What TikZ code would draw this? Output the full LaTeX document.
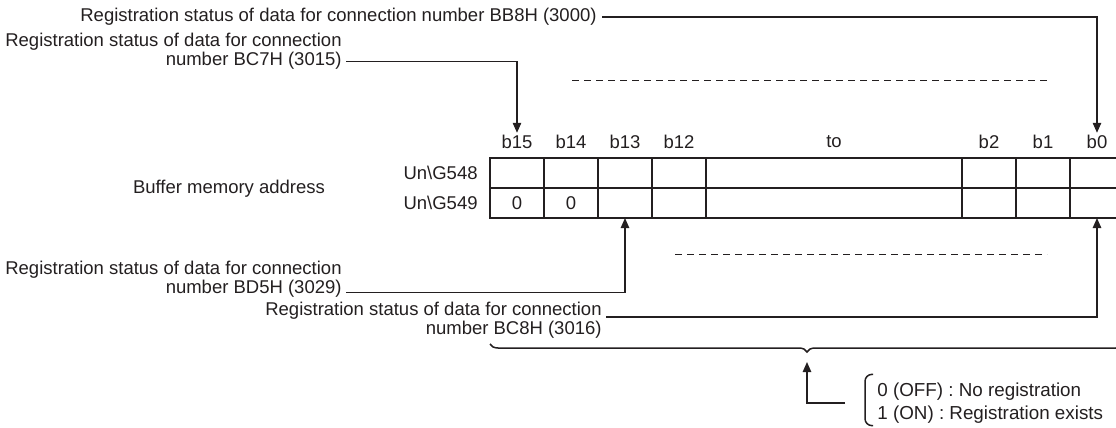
\documentclass[tikz,border=0pt]{standalone}
\usepackage{fontspec}
\setmainfont{Liberation Sans}
\usetikzlibrary{arrows.meta,positioning,calc,decorations.pathreplacing}
\definecolor{mmink}{RGB}{35,31,32}

\begin{document}
\begin{tikzpicture}[x=0.5pt,y=-0.5pt,
        every node/.style={font=\fontsize{9.25}{8.4}\selectfont, text=mmink},
        lbl/.style={align=right, inner sep=0pt},
        legend/.style={align=left, inner sep=0pt, font=\fontsize{9.4}{11.5}\selectfont},
        cell/.style={draw=mmink, line width=1pt, minimum width=27pt, minimum height=15pt, inner sep=0pt, outer sep=0pt},
        bitlbl/.style={inner sep=1pt},
        leader/.style={draw=mmink, line width=0.75pt, -{Triangle[length=5pt,width=4.2pt]}},
        plainline/.style={draw=mmink, line width=0.75pt},
        dashline/.style={draw=mmink, line width=0.5pt, dash pattern=on 3.5pt off 2.5pt}
      ]
      \useasboundingbox (0,0) rectangle (1116,428);

      % bit numbers and register cells
      \foreach \n/\x in {15/517,14/571,13/625,12/679,2/989,1/1043,0/1097} {
        \node[bitlbl] (l\n) at (\x,142) {b\n};
        \node[cell] (a\n) at (\x,173) {};
        \node[cell] (b\n) at (\x,203) {};
      }
      \node[bitlbl] (lto) at (834,142) {to};
      \node[cell, minimum width=128pt] (ato) at (834,173) {};
      \node[cell, minimum width=128pt] (bto) at (834,203) {};
      \node (z15) at (b15) {0};
      \node (z14) at (b14) {0};

      \node (bma) at (229,189) {Buffer memory address};
      \node[lbl, anchor=east] (un548) at (478,173) {Un\textbackslash G548};
      \node[lbl, anchor=east] (un549) at (478,203) {Un\textbackslash G549};

      % connection numbers
      \node[lbl, anchor=east] (bb8) at (597,17) {Registration status of data for connection number BB8H (3000)};
      \node[lbl, anchor=east] (bc7) at (342,51) {Registration status of data for connection\\number BC7H (3015)};
      \node[lbl, anchor=east] (bd5) at (342,279) {Registration status of data for connection\\number BD5H (3029)};
      \node[lbl, anchor=east] (bc8) at (602,320) {Registration status of data for connection\\number BC8H (3016)};

      \draw[leader] ([xshift=2.5pt]bb8.east) -| (l0.north);
      \draw[leader] ([xshift=2pt,yshift=4pt]bc7.south east) -| (l15.north);
      \draw[leader] ([xshift=2pt,yshift=2.5pt]bd5.south east) -| (b13.south);
      \draw[leader] ([xshift=2pt,yshift=1.5pt]bc8.east) -| (b0.south);

      \draw[dashline] (572,80) -- (1047,80);
      \draw[dashline] (675,254) -- (1047,254);

      % brace and legend
      \draw[plainline, decorate, decoration={brace, mirror, amplitude=4pt}]
        ([yshift=-63pt]b15.south west) -- ([yshift=-63pt]b0.south east);
      \coordinate (brtip) at ($(b15.south west)!.5!(b0.south east)+(0,144)$);

      \node[legend, anchor=west] (leg) at (877,403) {0 (OFF) : No registration\\1 (ON) : Registration exists};
      \draw[plainline, rounded corners=3.5pt] ([xshift=-2pt,yshift=4pt]leg.north west) -- ++(-4pt,0)
        |- ([xshift=-2pt,yshift=-1pt]leg.south west);
      \coordinate (legin) at ([xshift=-16pt]leg.west);
      \draw[leader] (legin) -| (brtip);
    \end{tikzpicture}
\end{document}
